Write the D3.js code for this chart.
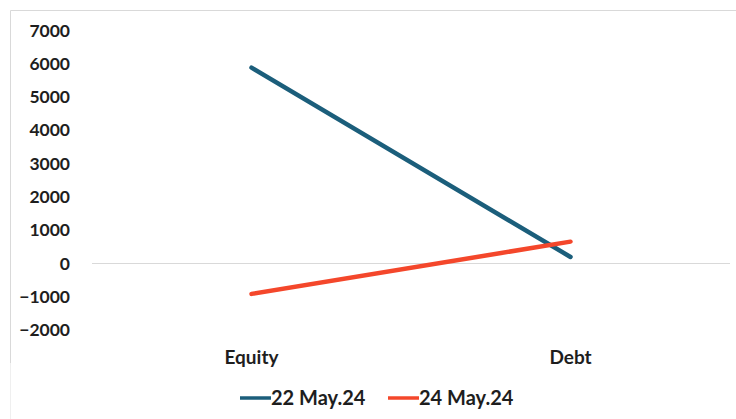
<!DOCTYPE html>
<html>
<head>
<meta charset="utf-8">
<script src="https://cdn.jsdelivr.net/npm/d3@7"></script>
<style>
  body { margin: 0; background: #fff; }
  text { font-family: Lato, "Open Sans", sans-serif; font-weight: bold; fill: #1e1e1e; }
</style>
</head>
<body>
<script>
// Chart data
var categories = ["Equity", "Debt"];
var seriesNames = ["22 May.24", "24 May.24"];
var may22 = [5870, 180];
var may24 = [-930, 640];
var yTicks = [-2000, -1000, 0, 1000, 2000, 3000, 4000, 5000, 6000, 7000];
var colors = ["#1b5e7b", "#f4472b"];

var svgWidth = 736;
var svgHeight = 419;

var margin = { top: 30, right: 6, bottom: 90, left: 92 };

var svg = d3.select("body")
  .append("svg")
  .attr("width", svgWidth)
  .attr("height", svgHeight);

// faint chart frame
svg.append("path")
  .attr("d", "M10.5,363 L10.5,10.5 L736,10.5")
  .attr("fill", "none")
  .attr("stroke", "#d9d9d9")
  .attr("stroke-width", 1);
svg.append("line")
  .attr("x1", 10.5).attr("x2", 10.5)
  .attr("y1", 363).attr("y2", 419)
  .attr("stroke", "#efefef");

var x = d3.scaleBand()
  .domain(categories)
  .range([margin.left, 730]);

var y = d3.scaleLinear()
  .domain([-2000, 7000])
  .range([329.5, 30]);

// y axis labels (no axis line)
var yAxis = d3.axisLeft(y)
  .tickValues(yTicks)
  .tickSize(0)
  .tickPadding(0)
  .tickFormat(d3.format("d"));

var yg = svg.append("g")
  .attr("transform", "translate(70,0)")
  .call(yAxis);
yg.select(".domain").remove();
yg.selectAll("text")
  .style("font-size", "17.5px")
  .attr("dy", "0.35em");

// zero line
svg.append("line")
  .attr("x1", margin.left)
  .attr("x2", 730)
  .attr("y1", Math.round(y(0)) + 0.5)
  .attr("y2", Math.round(y(0)) + 0.5)
  .attr("stroke", "#d9d9d9")
  .attr("stroke-width", 1);

// category labels
var xAxis = d3.axisBottom(x).tickSize(0).tickPadding(0);
var xg = svg.append("g")
  .attr("transform", "translate(0,357)")
  .call(xAxis);
xg.select(".domain").remove();
xg.selectAll("text")
  .style("font-size", "19px")
  .attr("dy", "0.35em");

// lines
var series = [may22, may24];
var line = d3.line()
  .x(function(d, i) { return x(categories[i]) + x.bandwidth() / 2; })
  .y(function(d) { return y(d); });

svg.selectAll(".series")
  .data(series)
  .enter()
  .append("path")
  .attr("class", "series")
  .attr("d", line)
  .attr("fill", "none")
  .attr("stroke", function(d, i) { return colors[i]; })
  .attr("stroke-width", 4.5)
  .attr("stroke-linecap", "round");

// legend
var legendX = [240, 388];
var legend = svg.selectAll(".legend")
  .data(seriesNames)
  .enter()
  .append("g")
  .attr("class", "legend")
  .attr("transform", function(d, i) { return "translate(" + legendX[i] + ",398)"; });

legend.append("line")
  .attr("x1", 0).attr("x2", 31)
  .attr("y1", 0).attr("y2", 0)
  .attr("stroke", function(d, i) { return colors[i]; })
  .attr("stroke-width", 3.5);

legend.append("text")
  .attr("x", 31)
  .attr("dy", "0.35em")
  .style("font-size", "20px")
  .text(function(d) { return d; });
</script>
</body>
</html>
